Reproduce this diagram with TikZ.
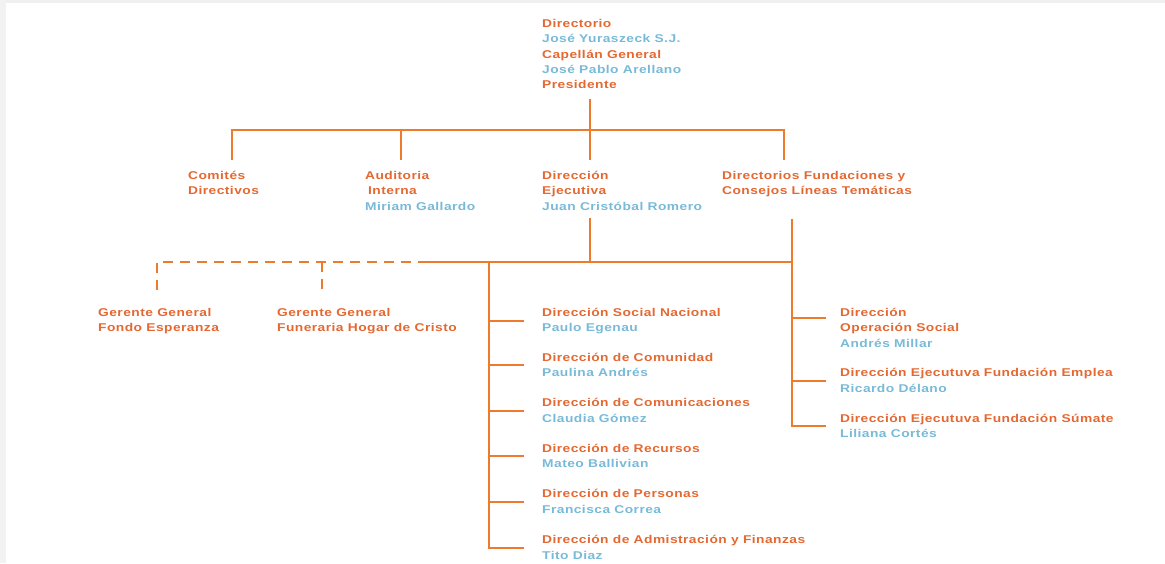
\documentclass[tikz,border=0pt]{standalone}
\usepackage{fontspec}
\newfontfamily\orgfont{Liberation Sans}[FakeStretch=1.22,LetterSpace=4]
\usetikzlibrary{positioning}

\definecolor{cargoorange}{RGB}{228,104,50}
\definecolor{nombreblue}{RGB}{120,186,216}
\definecolor{lineorange}{RGB}{238,122,44}
\newcommand{\cargo}[1]{\textcolor{cargoorange}{#1}}
\newcommand{\nombre}[1]{\textcolor{nombreblue}{#1}}

\begin{document}
\begin{tikzpicture}[x=1pt,y=-1pt,
            unidad/.style={anchor=north west, inner sep=0pt, align=left,
                font=\orgfont\bfseries\fontsize{11.3}{15.4}\selectfont},
            linea/.style={draw=lineorange, line width=2.2pt},
            lineadash/.style={linea, dash pattern=on 10pt off 7pt},
            ]
            \useasboundingbox (0,0) rectangle (1165,563);
            \fill[gray!12] (0,0) rectangle (1165,3);
            \fill[gray!10] (0,0) rectangle (6,563);

            %Nodes
            \node[unidad] (directorio) at (542,19) {\cargo{Directorio}\\ \nombre{José Yuraszeck S.J.}\\ \cargo{Capellán General}\\ \nombre{José Pablo Arellano}\\ \cargo{Presidente}};
            \node[unidad] (comites)   at (188,171) {\cargo{Comités}\\ \cargo{Directivos}};
            \node[unidad] (auditoria) at (365,171) {\cargo{Auditoria}\\ \cargo{\hspace{3pt}Interna}\\ \nombre{Miriam Gallardo}};
            \node[unidad] (direjec)   at (542,171) {\cargo{Dirección}\\ \cargo{Ejecutiva}\\ \nombre{Juan Cristóbal Romero}};
            \node[unidad] (fundac)    at (722,171) {\cargo{Directorios Fundaciones y}\\ \cargo{Consejos Líneas Temáticas}};

            \node[unidad] (fondo)     at (98,308)  {\cargo{Gerente General}\\ \cargo{Fondo Esperanza}};
            \node[unidad] (funeraria) at (277,308) {\cargo{Gerente General}\\ \cargo{Funeraria Hogar de Cristo}};

            \node[unidad] (social)    at (542,308)   {\cargo{Dirección Social Nacional}\\ \nombre{Paulo Egenau}};
            \node[unidad] (comunidad) at (542,353)   {\cargo{Dirección de Comunidad}\\ \nombre{Paulina Andrés}};
            \node[unidad] (comunic)   at (542,398.5) {\cargo{Dirección de Comunicaciones}\\ \nombre{Claudia Gómez}};
            \node[unidad] (recursos)  at (542,444)   {\cargo{Dirección de Recursos}\\ \nombre{Mateo Ballivian}};
            \node[unidad] (personas)  at (542,489.5) {\cargo{Dirección de Personas}\\ \nombre{Francisca Correa}};
            \node[unidad] (finanzas)  at (542,535.5) {\cargo{Dirección de Admistración y Finanzas}\\ \nombre{Tito Diaz}};

            \node[unidad] (opsocial)  at (840,308)   {\cargo{Dirección}\\ \cargo{Operación Social}\\ \nombre{Andrés Millar}};
            \node[unidad] (emplea)    at (840,368.5) {\cargo{Dirección Ejecutuva Fundación Emplea}\\ \nombre{Ricardo Délano}};
            \node[unidad] (sumate)    at (840,414)   {\cargo{Dirección Ejecutuva Fundación Súmate}\\ \nombre{Liliana Cortés}};

            %Bus points
            \coordinate (dropA) at (232,130);
            \coordinate (dropB) at (401,130);
            \coordinate (dropC) at (590,130);
            \coordinate (dropD) at (784,130);
            \coordinate (bus2)  at (590,262);
            \coordinate (dropE) at (157,262);
            \coordinate (dropF) at (322,262);
            \coordinate (dashEnd) at (428,262);
            \coordinate (trunkL) at (489,262);
            \coordinate (trunkR) at (792,262);
            \coordinate (opsocialStub) at ([yshift=10pt]opsocial.west);

            %Lines
            \draw[linea, shorten <=10pt] (directorio.south -| dropC) -- (dropC);
            \draw[linea, shorten <=11pt, shorten >=11pt] (dropA |- comites.north) -- (dropA) -- (dropD) -- (dropD |- fundac.north);
            \draw[linea, shorten >=11pt] (dropB) -- (dropB |- auditoria.north);
            \draw[linea, shorten >=11pt] (dropC) -- (dropC |- direjec.north);

            \draw[linea, shorten <=7pt] (direjec.south -| bus2) -- (bus2);
            \draw[linea] (dashEnd) -- (trunkR);
            \draw[lineadash, shorten <=18pt] (dropE |- fondo.north) -- (dropE) -- (dashEnd);
            \draw[lineadash, shorten >=18pt] (dropF) -- (dropF |- funeraria.north);

            \draw[linea, shorten >=18pt] (trunkL) -- (trunkL |- finanzas.west) -- (finanzas.west);
            \foreach \n in {social,comunidad,comunic,recursos,personas}
                \draw[linea, shorten >=18pt] (trunkL |- \n.west) -- (\n.west);

            \draw[linea, shorten <=22pt, shorten >=14pt] (fundac.south -| trunkR) -- (trunkR |- sumate.west) -- (sumate.west);
            \draw[linea, shorten >=14pt] (trunkR |- opsocialStub) -- (opsocialStub);
            \draw[linea, shorten >=14pt] (trunkR |- emplea.west) -- (emplea.west);

        \end{tikzpicture}
\end{document}
